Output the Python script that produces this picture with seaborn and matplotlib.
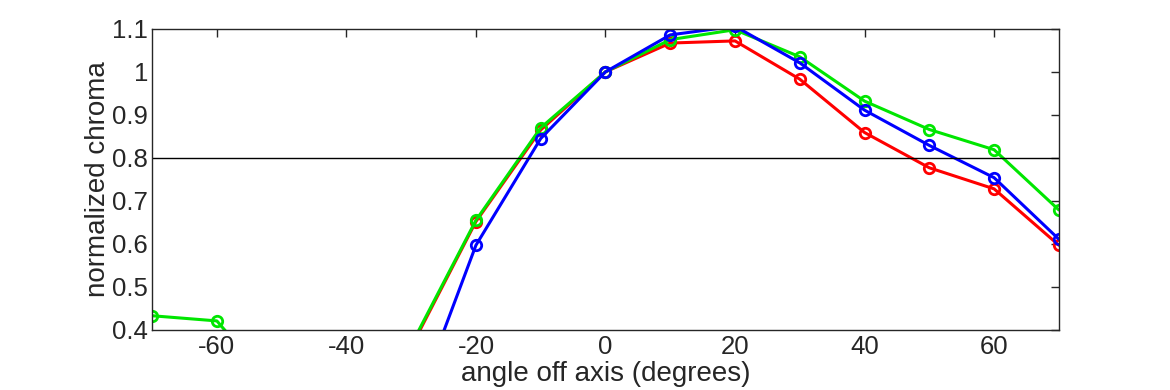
# Normalized chroma vs viewing angle, three channels
import numpy as np
import pandas as pd
import matplotlib
matplotlib.use("Agg")
import matplotlib.pyplot as plt
import seaborn as sns

# Data (values below 0.4 are off-axis estimates)
angles = [-70, -60, -50, -40, -30, -20, -10, 0, 10, 20, 30, 40, 50, 60, 70]
red_vals = [0.30, 0.28, 0.22, 0.20, 0.36, 0.652, 0.865, 1.0, 1.067, 1.072, 0.983, 0.859, 0.777, 0.728, 0.597]
green_vals = [0.433, 0.421, 0.246, 0.28, 0.365, 0.655, 0.870, 1.0, 1.075, 1.098, 1.035, 0.932, 0.866, 0.819, 0.679]
blue_vals = [0.20, 0.18, 0.15, 0.14, 0.195, 0.597, 0.845, 1.0, 1.086, 1.106, 1.021, 0.911, 0.829, 0.754, 0.611]
threshold = 0.8

series = {"red": red_vals, "green": green_vals, "blue": blue_vals}
colors = {"red": "#ff0000", "green": "#00e600", "blue": "#0000ff"}

sns.set_style("white")
plt.rcParams["font.family"] = ["Liberation Sans", "DejaVu Sans"]
plt.rcParams["axes.unicode_minus"] = False

fig = plt.figure(figsize=(11.7, 3.9), dpi=100)
ax = fig.add_axes([0.13, 0.154, 0.775, 0.772])

for name, vals in series.items():
    df = pd.DataFrame({"angle": angles, "chroma": vals})
    sns.lineplot(data=df, x="angle", y="chroma", ax=ax, color=colors[name],
                 linewidth=2.2, marker="o", markersize=7.5, markerfacecolor="none",
                 markeredgecolor=colors[name], markeredgewidth=2)

ax.axhline(threshold, color="black", linewidth=1)

ax.set_xlim(-70, 70)
ax.set_ylim(0.4, 1.1)
ax.set_xticks([-60, -40, -20, 0, 20, 40, 60])
ax.set_yticks([0.4, 0.5, 0.6, 0.7, 0.8, 0.9, 1.0, 1.1])
ax.set_yticklabels(["0.4", "0.5", "0.6", "0.7", "0.8", "0.9", "1", "1.1"])
ax.set_xlabel("angle off axis (degrees)", fontsize=20, color="#262626", labelpad=1)
ax.set_ylabel("normalized chroma", fontsize=20, color="#262626", labelpad=1)
ax.tick_params(direction="in", length=6, width=1, labelsize=18.5, colors="#262626",
               top=True, right=True, pad=3)
ax.tick_params(axis="x", pad=4)
for s in ax.spines.values():
    s.set_color("#262626")
    s.set_linewidth(1)

fig.savefig("out.png", dpi=100)
